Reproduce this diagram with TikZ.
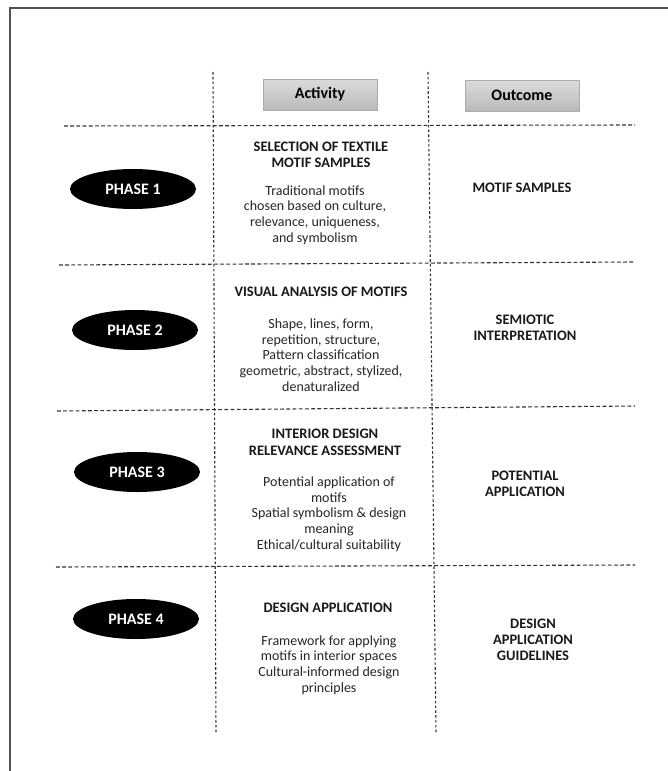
\documentclass[tikz,border=0pt]{standalone}
\usepackage{fontspec}
\setmainfont{Carlito}
\usetikzlibrary{shapes.geometric}
\begin{document}
\begin{tikzpicture}[x=1pt,y=-1pt,
  hgrid/.style={draw=black!80,line width=1.1pt,dash pattern=on 3.8pt off 2.4pt},
  vgrid/.style={draw=black!80,line width=1.1pt,dash pattern=on 2.6pt off 2.2pt},
  hdr/.style={draw=black!33,line width=0.9pt,top color=black!14,bottom color=black!27,
    minimum width=114pt,minimum height=31pt,inner sep=0pt,font=\fontsize{16}{18}\selectfont\bfseries},
  phase/.style={ellipse,fill=black,minimum width=126pt,minimum height=40pt,inner sep=0pt,
    text=white,font=\fontsize{16}{18}\selectfont\bfseries},
  ttl/.style={align=center,inner sep=0pt,text=black!90,font=\fontsize{14.5}{16.5}\selectfont\bfseries},
  body/.style={align=center,inner sep=0pt,text=black!85,font=\fontsize{14}{15.7}\selectfont},
  outtxt/.style={align=center,inner sep=0pt,text=black!90,font=\fontsize{14.5}{16}\selectfont\bfseries}]
\useasboundingbox (0,0) rectangle (667,771);
\fill[white] (0,0) rectangle (667,771);
% frame
\draw[black!68,line width=2pt] (10,800) -- (10,7.5) -- (700,7.5);
% grid lines
\coordinate (v1a) at (213,72); \coordinate (v1b) at (216,733);
\coordinate (v2a) at (428,72); \coordinate (v2b) at (436,733);
\draw[vgrid] (v1a) -- (v1b);
\draw[vgrid] (v2a) -- (v2b);
\coordinate (h1a) at (64,126); \coordinate (h1b) at (635,125);
\coordinate (h2a) at (59,265); \coordinate (h2b) at (635,262);
\coordinate (h3a) at (57,411); \coordinate (h3b) at (635,406);
\coordinate (h4a) at (56,567); \coordinate (h4b) at (635,565);
\draw[hgrid] (h1a) -- (h1b);
\draw[hgrid] (h2a) -- (h2b);
\draw[hgrid] (h3a) -- (h3b);
\draw[hgrid] (h4a) -- (h4b);
% headers
\node[hdr] (act) at (320,94.5) {Activity};
\node[hdr] (outc) at (522,95.5) {Outcome};
% phases
\node[phase] (p1) at (133,189) {PHASE 1};
\node[phase] (p2) at (135,330) {PHASE 2};
\node[phase] (p3) at (137,472) {PHASE 3};
\node[phase] (p4) at (136,619) {PHASE 4};
% activities
\node[ttl] (a1t) at (321,155) {SELECTION OF TEXTILE\\MOTIF SAMPLES};
\node[body] (a1b) at (315,215) {Traditional motifs\\chosen based on culture,\\relevance, uniqueness,\\and symbolism};
\node[ttl] (a2t) at (321,292) {VISUAL ANALYSIS OF MOTIFS};
\node[body] (a2b) at (321,355) {Shape, lines, form,\\repetition, structure,\\Pattern classification\\geometric, abstract, stylized,\\denaturalized};
\node[ttl] (a3t) at (325,442.5) {INTERIOR DESIGN\\RELEVANCE ASSESSMENT};
\node[body] (a3b) at (329,514) {Potential application of\\motifs\\Spatial symbolism \& design\\meaning\\Ethical/cultural suitability};
\node[ttl] (a4t) at (328,608) {DESIGN APPLICATION};
\node[body] (a4b) at (329,665) {Framework for applying\\motifs in interior spaces\\Cultural-informed design\\principles};
% outcomes
\node[outtxt] (o1) at (522,188) {MOTIF SAMPLES};
\node[outtxt] (o2) at (525,328) {SEMIOTIC\\INTERPRETATION};
\node[outtxt] (o3) at (525,484) {POTENTIAL\\APPLICATION};
\node[outtxt] (o4) at (533,640) {DESIGN\\APPLICATION\\GUIDELINES};
\end{tikzpicture}
\end{document}
